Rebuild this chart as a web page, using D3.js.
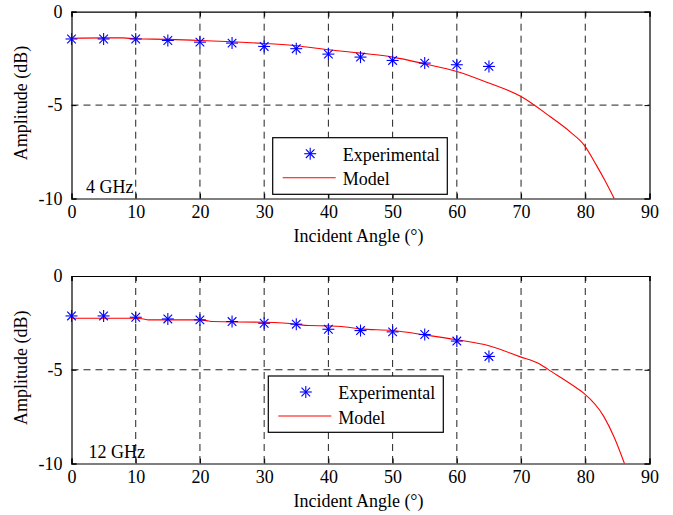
<!DOCTYPE html>
<html>
<head>
<meta charset="utf-8">
<script src="https://cdn.jsdelivr.net/npm/d3@7"></script>
<style>
  html, body { margin: 0; padding: 0; background: #fff; }
  svg text { font-family: "Liberation Serif", "Times New Roman", serif; fill: #000; }
</style>
</head>
<body>
<svg id="chart" width="673" height="515"></svg>
<script>
// ---- Data ----
const xTicks = [0, 10, 20, 30, 40, 50, 60, 70, 80, 90];
const yTicks = [0, -5, -10];
const expAngles = [0, 5, 10, 15, 20, 25, 30, 35, 40, 45, 50, 55, 60, 65];

const exp4GHz = [-1.46, -1.46, -1.46, -1.54, -1.63, -1.68, -1.86, -1.98, -2.27, -2.43, -2.61, -2.75, -2.84, -2.93];
const model4Angles = [0, 5, 8, 10, 15, 20, 25, 30, 35, 40, 45, 50, 55, 60, 65, 70, 74.5, 77.6, 79.8, 81.7, 83, 84.5];
const model4GHz = [-1.42, -1.40, -1.40, -1.45, -1.48, -1.54, -1.61, -1.70, -1.82, -2.04, -2.22, -2.43, -2.79, -3.2, -3.82, -4.54, -5.61, -6.42, -7.13, -8.2, -9.0, -10];

const exp12GHz = [-2.13, -2.13, -2.2, -2.29, -2.34, -2.43, -2.52, -2.57, -2.84, -2.91, -2.98, -3.12, -3.47, -4.29];
const model12Angles = [0, 10, 11, 12, 20, 21, 22, 30, 35, 36, 37, 40, 42, 45, 50, 55, 60, 65, 69.8, 72.9, 74.2, 78.6, 79.8, 82.9, 84.5, 86.1];
const model12GHz = [-2.25, -2.25, -2.28, -2.34, -2.34, -2.38, -2.43, -2.47, -2.57, -2.62, -2.64, -2.66, -2.69, -2.82, -2.91, -3.14, -3.4, -3.72, -4.3, -4.69, -4.98, -5.96, -6.26, -7.5, -8.6, -10];

const legendLabels = ["Experimental", "Model"];
const xLabel = "Incident Angle (°)";
const yLabel = "Amplitude (dB)";

// ---- Drawing ----
const svg = d3.select("#chart");
const FS = 18;

function star(g, cx, cy) {
  const r = 6, d = 4.3;
  const segs = [[-r, 0, r, 0], [0, -r, 0, r], [-d, -d, d, d], [-d, d, d, -d]];
  segs.forEach(s => g.append("line")
    .attr("x1", cx + s[0]).attr("y1", cy + s[1])
    .attr("x2", cx + s[2]).attr("y2", cy + s[3])
    .attr("stroke", "#0000ff").attr("stroke-width", 1.1));
}

function panel(cfg) {
  const x = d3.scaleLinear().domain([0, 90]).range([cfg.left, cfg.right]);
  const y = d3.scaleLinear().domain([-10, 0]).range([cfg.bottom, cfg.top]);
  const g = svg.append("g");

  // grid
  g.selectAll(null).data(xTicks.slice(1, -1)).enter().append("line")
    .attr("x1", d => x(d)).attr("x2", d => x(d))
    .attr("y1", cfg.top).attr("y2", cfg.bottom)
    .attr("stroke", "#222").attr("stroke-width", 1).attr("stroke-dasharray", "7,5");
  g.selectAll(null).data([-5]).enter().append("line")
    .attr("x1", cfg.left).attr("x2", cfg.right)
    .attr("y1", d => y(d)).attr("y2", d => y(d))
    .attr("stroke", "#222").attr("stroke-width", 1).attr("stroke-dasharray", "7,5");

  // axes with inward ticks (MATLAB style)
  const xAxisB = d3.axisBottom(x).tickValues(xTicks).tickSize(-5).tickPadding(7).tickFormat(d3.format("d"));
  const xAxisT = d3.axisTop(x).tickValues(xTicks).tickSize(-5).tickFormat("");
  const yAxisL = d3.axisLeft(y).tickValues(yTicks).tickSize(-5).tickPadding(9).tickFormat(d => d === 0 ? "0" : "-" + Math.abs(d));
  const yAxisR = d3.axisRight(y).tickValues(yTicks).tickSize(-5).tickFormat("");

  const styleAxis = sel => {
    sel.select(".domain").attr("stroke", "#000").attr("stroke-width", 1.2);
    sel.selectAll(".tick line").attr("stroke", "#000");
    sel.selectAll("text").attr("font-size", FS).attr("font-family", "Liberation Serif").attr("fill", "#000");
  };
  g.append("g").attr("transform", `translate(0,${cfg.bottom})`).call(xAxisB).call(styleAxis);
  g.append("g").attr("transform", `translate(0,${cfg.top})`).call(xAxisT).call(styleAxis);
  g.append("g").attr("transform", `translate(${cfg.left},0)`).call(yAxisL).call(styleAxis);
  g.append("g").attr("transform", `translate(${cfg.right},0)`).call(yAxisR).call(styleAxis);

  // model line
  const line = d3.line().curve(d3.curveMonotoneX).x(d => x(d[0])).y(d => y(d[1]));
  g.append("path")
    .datum(cfg.mAngles.map((a, i) => [a, cfg.model[i]]))
    .attr("d", line).attr("fill", "none").attr("stroke", "#ff0000").attr("stroke-width", 1.1);

  // experimental markers
  expAngles.forEach((a, i) => star(g, x(a), y(cfg.exp[i])));

  // frequency annotation
  g.append("text").attr("x", cfg.annX).attr("y", cfg.bottom - 5.5)
    .attr("font-size", FS).text(cfg.ann);

  // labels
  g.append("text").attr("x", (cfg.left + cfg.right) / 2 - 2).attr("y", cfg.bottom + 43)
    .attr("text-anchor", "middle").attr("font-size", FS).text(xLabel);
  g.append("text").attr("transform", `translate(27,${(cfg.top + cfg.bottom) / 2 - 2}) rotate(-90)`)
    .attr("text-anchor", "middle").attr("font-size", FS).text(yLabel);

  // legend
  const L = cfg.legend;
  g.append("rect").attr("x", L.x).attr("y", L.y).attr("width", L.w).attr("height", L.h)
    .attr("fill", "#fff").attr("stroke", "#000").attr("stroke-width", 1.2);
  star(g, L.x + 37.5, L.y + 16);
  g.append("line").attr("x1", L.x + 10).attr("x2", L.x + 63)
    .attr("y1", L.y + 40).attr("y2", L.y + 40)
    .attr("stroke", "#ff0000").attr("stroke-width", 1.1);
  g.append("text").attr("x", L.x + 70).attr("y", L.y + 23).attr("font-size", FS).text(legendLabels[0]);
  g.append("text").attr("x", L.x + 70).attr("y", L.y + 47.5).attr("font-size", FS).text(legendLabels[1]);
}

panel({
  left: 71.5, right: 649.5, top: 11.7, bottom: 198.5,
  exp: exp4GHz, mAngles: model4Angles, model: model4GHz,
  ann: "4 GHz", annX: 86,
  legend: { x: 272.7, y: 137.7, w: 174.6, h: 56.6 }
});
panel({
  left: 71.5, right: 649.5, top: 276, bottom: 463.5,
  exp: exp12GHz, mAngles: model12Angles, model: model12GHz,
  ann: "12 GHz", annX: 88.5,
  legend: { x: 268.3, y: 376, w: 175, h: 56.3 }
});
</script>
</body>
</html>
